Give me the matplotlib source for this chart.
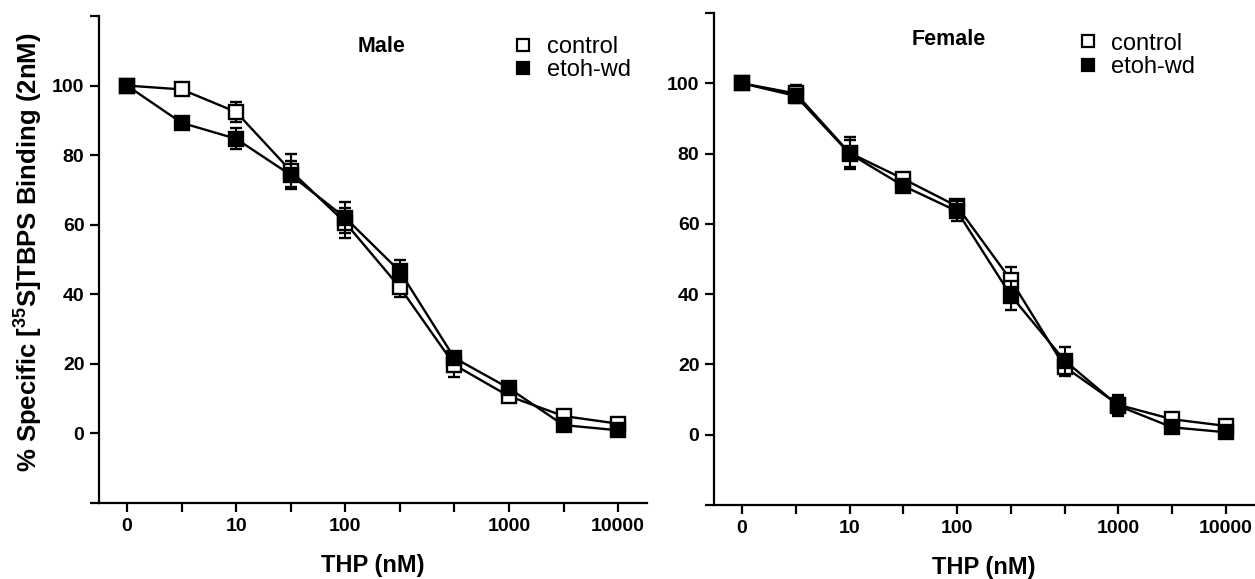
import matplotlib
matplotlib.use("Agg")
import matplotlib.pyplot as plt
from matplotlib.lines import Line2D
import numpy as np

plt.rcParams['font.family'] = ['Liberation Sans', 'DejaVu Sans']
plt.rcParams['mathtext.fontset'] = 'custom'
plt.rcParams['mathtext.rm'] = 'Liberation Sans'
plt.rcParams['mathtext.bf'] = 'Liberation Sans:bold'

# ---- data ----
concentrations = ["0", "3", "10", "30", "100", "300", "600", "1000", "3000", "10000"]
tick_labels = ["0", "", "10", "", "100", "", "", "1000", "", "10000"]
ytick_values = [-20, 0, 20, 40, 60, 80, 100, 120]
ytick_labels = ["", "0", "20", "40", "60", "80", "100", ""]

male_control = [100, 98.9, 92.4, 75.5, 60.6, 42.0, 19.7, 10.7, 5.0, 2.8]
male_control_err = [0, 0.8, 3.0, 4.8, 4.3, 2.8, 3.4, 1.5, 1.0, 0.8]
male_etoh = [100, 89.3, 84.7, 74.3, 62.0, 46.6, 21.7, 13.0, 2.4, 0.9]
male_etoh_err = [0, 0.5, 3.0, 4.0, 4.4, 3.2, 1.2, 1.5, 0.8, 0.8]

female_control = [100, 97.1, 80.2, 72.8, 65.0, 44.0, 19.3, 8.5, 4.4, 2.5]
female_control_err = [0, 2.5, 4.5, 1.5, 1.5, 3.6, 2.6, 2.6, 1.2, 1.0]
female_etoh = [100, 96.4, 80.0, 70.8, 63.6, 39.6, 21.1, 8.2, 2.1, 0.7]
female_etoh_err = [0, 2.0, 3.8, 1.5, 2.8, 4.2, 4.0, 3.0, 1.0, 0.8]

series_labels = ["control", "etoh-wd"]
panel_titles = ["Male", "Female"]

W, H = 1255, 579
fig = plt.figure(figsize=(W / 100, H / 100), dpi=100)
ax1 = fig.add_axes([99 / W, 1 - 503 / H, 548 / W, 487 / H])
ax2 = fig.add_axes([714 / W, 1 - 505 / H, 540 / W, 492 / H])

pos = np.arange(len(concentrations))


def style(ax, xl):
    for s in ["top", "right"]:
        ax.spines[s].set_visible(False)
    for s in ["left", "bottom"]:
        ax.spines[s].set_linewidth(1.6)
    ax.set_xlim(*xl)
    ax.set_ylim(-20, 120)
    ax.set_xticks(pos)
    ax.set_xticklabels(tick_labels)
    ax.set_yticks(ytick_values)
    ax.set_yticklabels(ytick_labels)
    ax.tick_params(direction="out", length=6.5, width=1.6, labelsize=14, pad=4)
    for lab in ax.get_xticklabels() + ax.get_yticklabels():
        lab.set_fontweight("bold")
    ax.set_xlabel("THP (nM)", fontsize=17, fontweight="bold", labelpad=14)


def draw(ax, ctrl, ctrl_err, etoh, etoh_err):
    ax.errorbar(pos, ctrl, yerr=ctrl_err, color="black", lw=1.7, marker="s",
                ms=10, mfc="white", mec="black", mew=1.7, capsize=4,
                elinewidth=1.5, capthick=1.6, zorder=3)
    ax.errorbar(pos, etoh, yerr=etoh_err, color="black", lw=1.7, marker="s",
                ms=10, mfc="black", mec="black", mew=1.7, capsize=4,
                elinewidth=1.5, capthick=1.6, zorder=4)


draw(ax1, male_control, male_control_err, male_etoh, male_etoh_err)
draw(ax2, female_control, female_control_err, female_etoh, female_etoh_err)
style(ax1, (-0.513, 9.53))
style(ax2, (-0.52, 9.52))

fig.text(28 / W, 1 - 252 / H, r"% Specific [$^{\mathbf{35}}$S]TBPS Binding (2nM)",
         rotation=90, ha="center", va="center", fontsize=18.5, fontweight="bold")

ax1.text(0.515, 0.938, panel_titles[0], transform=ax1.transAxes, ha="center",
         va="center", fontsize=15.5, fontweight="bold")
ax2.text(0.435, 0.947, panel_titles[1], transform=ax2.transAxes, ha="center",
         va="center", fontsize=15.5, fontweight="bold")

handles = [
    Line2D([], [], ls="none", marker="s", ms=9, mfc="white", mec="black", mew=1.6),
    Line2D([], [], ls="none", marker="s", ms=9, mfc="black", mec="black", mew=1.6),
]
for ax, (lx, ly) in [(ax1, (0.755, 0.959)), (ax2, (0.672, 0.96))]:
    ax.legend(handles, series_labels, loc="upper left", bbox_to_anchor=(lx, ly),
              frameon=False, fontsize=17, handlelength=0.9, handletextpad=0.55,
              labelspacing=0.05, borderpad=0, borderaxespad=0)

fig.savefig("out.png", dpi=100)
